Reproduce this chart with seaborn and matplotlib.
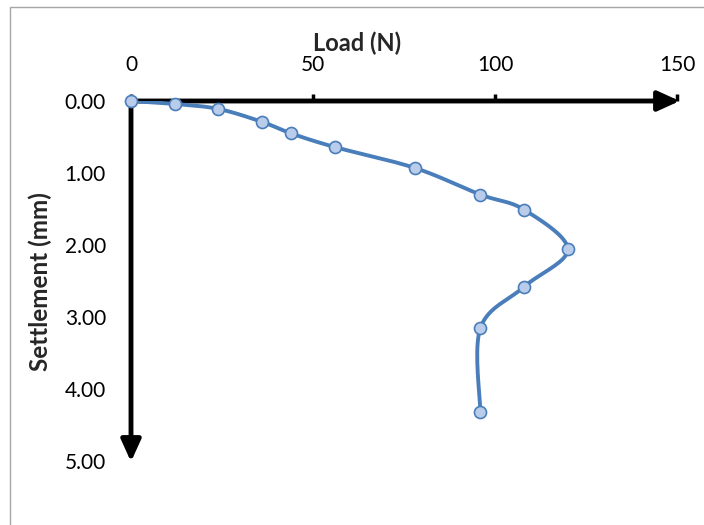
import numpy as np
import matplotlib
matplotlib.use('Agg')
import matplotlib.pyplot as plt
import seaborn as sns
from matplotlib.patches import Rectangle

# ── Data ──────────────────────────────────────────────────────────────────────
load_n = [0, 12, 24, 36, 44, 56, 78, 96, 108, 120, 108, 96, 96]
settlement_mm = [0.00, 0.04, 0.11, 0.29, 0.45, 0.64, 0.93, 1.30, 1.51, 2.06, 2.58, 3.15, 4.32]
x_ticks = [0, 50, 100, 150]
y_ticks = [0, 1, 2, 3, 4, 5]

LINE = '#4a7ebb'
FILL = '#b9cdea'


def smooth(xs, ys, n=20):
    # Catmull-Rom style smoothing, like Excel's "smoothed line"
    p = np.column_stack([xs, ys]).astype(float)
    p = np.vstack([p[0], p, p[-1]])
    out = []
    for i in range(1, len(p) - 2):
        p0, p1, p2, p3 = p[i - 1], p[i], p[i + 1], p[i + 2]
        t = np.linspace(0, 1, n, endpoint=False)[:, None]
        seg = 0.5 * ((2 * p1) + (-p0 + p2) * t
                     + (2 * p0 - 5 * p1 + 4 * p2 - p3) * t ** 2
                     + (-p0 + 3 * p1 - 3 * p2 + p3) * t ** 3)
        out.append(seg)
    out.append(p[-2][None, :])
    out = np.vstack(out)
    return out[:, 0], out[:, 1]


sns.set_theme(style='white')
plt.rcParams['font.family'] = ['Lato', 'DejaVu Sans']

fig = plt.figure(figsize=(7.04, 5.25), dpi=100)
ax = fig.add_axes([131 / 704, 1 - 461 / 525, 546 / 704, 360 / 525])

sx, sy = smooth(load_n, settlement_mm)
ax.plot(sx, sy, color=LINE, lw=2.8, solid_capstyle='round', zorder=3)
sns.scatterplot(x=load_n, y=settlement_mm, ax=ax, s=75, color=FILL,
                edgecolor=LINE, linewidth=1.2, zorder=4, clip_on=False)

ax.set_xlim(0, 150)
ax.set_ylim(5, 0)
ax.xaxis.tick_top()
ax.set_xticks(x_ticks)
ax.set_yticks(y_ticks)
ax.set_yticklabels([f'{v:.2f}' for v in y_ticks])
ax.tick_params(axis='x', direction='out', length=5, width=2.5, color='black',
               pad=14, labelsize=15, labelcolor='black')
ax.tick_params(axis='y', length=0, pad=18, labelsize=15, labelcolor='black')
for s in ax.spines.values():
    s.set_visible(False)

# axis arrows
arrow = dict(arrowstyle='-|>,head_length=1.1,head_width=0.5',
             color='black', lw=3.5, shrinkA=0, shrinkB=0)
ax.annotate('', xy=(1.005, 1), xytext=(0, 1), xycoords='axes fraction',
            arrowprops=arrow, zorder=2)
ax.annotate('', xy=(0, -0.002), xytext=(0, 1), xycoords='axes fraction',
            arrowprops=arrow, zorder=2)

fig.text(357 / 704, 1 - 43 / 525, 'Load (N)', ha='center', va='center',
         fontsize=17, fontweight='bold')
fig.text(40 / 704, 1 - 282 / 525, 'Settlement (mm)', ha='center', va='center',
         rotation=90, fontsize=17.5, fontweight='bold')

# chart border
fig.patches.append(Rectangle((10 / 704, -0.01), 1.0, 1 - 7 / 525 + 0.01,
                             transform=fig.transFigure, fill=False,
                             edgecolor='#a6a6a6', lw=1))

fig.savefig('out.png', dpi=100)
